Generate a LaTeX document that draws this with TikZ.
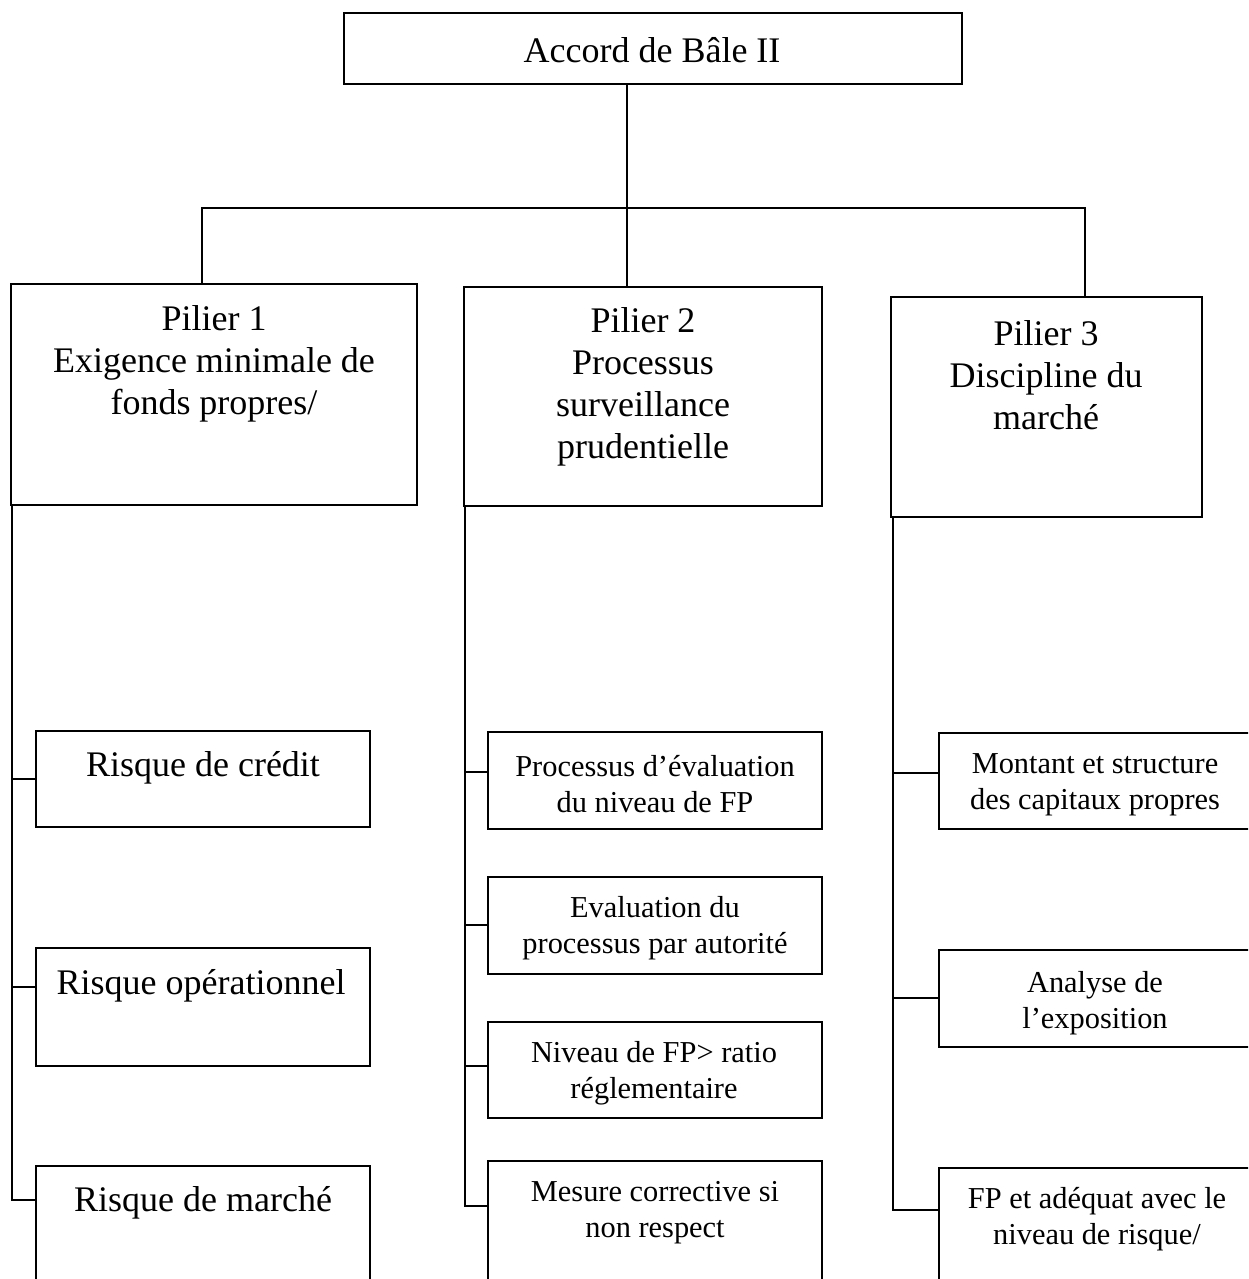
\documentclass[tikz,border=0pt]{standalone}
\usepackage{fontspec}
\setmainfont{Liberation Serif}
\newcommand{\bigf}{\fontsize{18}{21}\selectfont}
\newcommand{\smallf}{\fontsize{15.2}{18}\selectfont}
\newcommand{\boxat}[5]{\node[bx,minimum width={(#4-#2)*0.5pt},minimum height={(#5-#3)*0.5pt}] (#1) at ({(#2+#4)/2},{(#3+#5)/2}) {};}
\tikzset{
  bx/.style={draw, line width=0.9pt, inner sep=0pt, outer sep=0pt},
  big/.style={align=center, font=\bigf, inner sep=0pt, yshift=-1.6pt},
  small/.style={align=center, font=\smallf, inner sep=0pt, yshift=-1.8pt},
  conn/.style={line width=0.8pt},
  thin/.style={line width=0.55pt}
}
\begin{document}
\begin{tikzpicture}[x=0.5pt,y=-0.5pt]
\path[use as bounding box, clip] (0,0) rectangle (1248,1279);
\fill[white] (0,0) rectangle (1248,1279);
% top
\boxat{top}{344}{13}{962}{84}
\node[big] (topt) at (652,47) {Accord de Bâle II};
% pillars
\boxat{P1}{11}{284}{417}{505}
\node[big] (P1t) at (214,361) {Pilier 1\\Exigence minimale de\\fonds propres/};
\boxat{P2}{464}{287}{822}{506}
\node[big] (P2t) at (643,384) {Pilier 2\\Processus\\surveillance\\prudentielle};
\boxat{P3}{891}{297}{1202}{517}
\node[big] (P3t) at (1046,372) {Pilier 3\\Discipline du\\marché};
% trunk
\coordinate (j) at (627,208);
\coordinate (bl) at (202,208);
\coordinate (br) at (1085,208);
\draw[thin] (top.south -| j) -- (P2.north -| j);
\draw[conn] (P1.north -| bl) -- (bl) -- (br) -- (P3.north -| br);
% pillar 1 children
\boxat{R1}{36}{731}{370}{827}
\node[big] (R1t) at (203,765) {Risque de crédit};
\boxat{R2}{36}{948}{370}{1066}
\node[big] (R2t) at (201,983) {Risque opérationnel};
\boxat{R3}{36}{1166}{370}{1300}
\node[big] (R3t) at (203,1200) {Risque de marché};
\coordinate (a1) at (12,779);
\coordinate (a2) at (12,987);
\coordinate (a3) at (12,1200);
\draw[conn] (P1.south -| a1) -- (a3) -- (a3 -| R3.west);
\draw[conn] (a1) -- (a1 -| R1.west);
\draw[conn] (a2) -- (a2 -| R2.west);
% pillar 2 children
\boxat{C1}{488}{732}{822}{829}
\node[small] (C1t) at (655,780) {Processus d’évaluation\\du niveau de FP};
\boxat{C2}{488}{877}{822}{974}
\node[small] (C2t) at (655,925) {Evaluation du\\processus par autorité};
\boxat{C3}{488}{1022}{822}{1118}
\node[small] (C3t) at (654,1070) {Niveau de FP> ratio\\réglementaire};
\boxat{C4}{488}{1161}{822}{1300}
\node[small] (C4t) at (655,1209) {Mesure corrective si\\non respect};
\coordinate (b1) at (465,772);
\coordinate (b2) at (465,925);
\coordinate (b3) at (465,1066);
\coordinate (b4) at (465,1206);
\draw[conn] (P2.south -| b1) -- (b4) -- (b4 -| C4.west);
\draw[conn] (b1) -- (b1 -| C1.west);
\draw[conn] (b2) -- (b2 -| C2.west);
\draw[conn] (b3) -- (b3 -| C3.west);
% pillar 3 children
\boxat{D1}{939}{733}{1262}{829}
\node[small] (D1t) at (1095,781) {Montant et structure\\des capitaux propres};
\boxat{D2}{939}{950}{1262}{1047}
\node[small] (D2t) at (1095,1000) {Analyse de\\l’exposition};
\boxat{D3}{939}{1168}{1262}{1300}
\node[small] (D3t) at (1097,1216) {FP et adéquat avec le\\niveau de risque/};
\coordinate (d1) at (893,773);
\coordinate (d2) at (893,998);
\coordinate (d3) at (893,1210);
\draw[conn] (P3.south -| d1) -- (d3) -- (d3 -| D3.west);
\draw[conn] (d1) -- (d1 -| D1.west);
\draw[conn] (d2) -- (d2 -| D2.west);
\end{tikzpicture}
\end{document}
